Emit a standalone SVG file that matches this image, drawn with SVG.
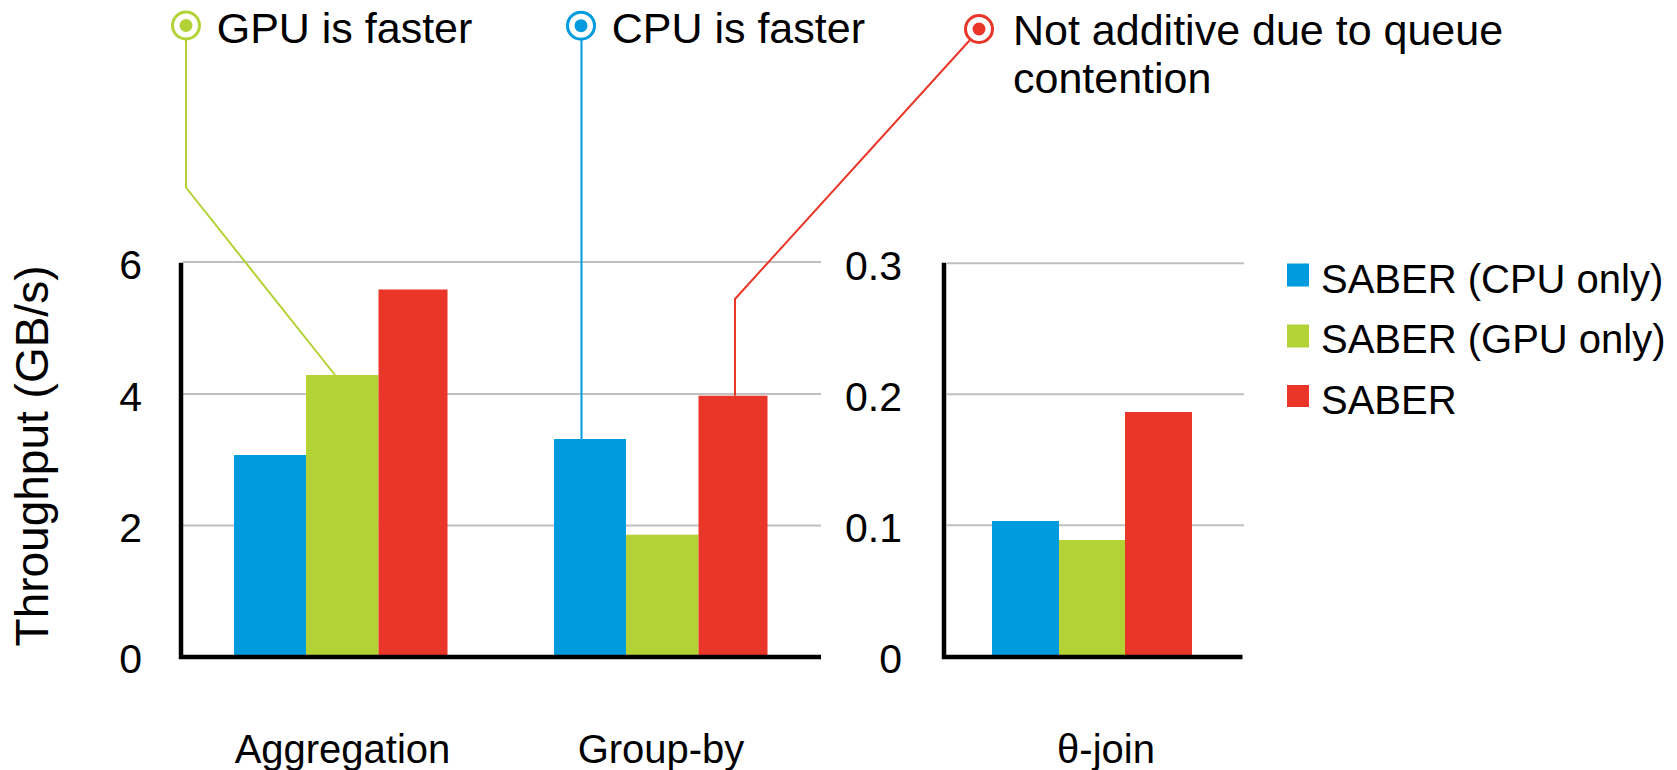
<svg xmlns="http://www.w3.org/2000/svg" width="1677" height="770" viewBox="0 0 1677 770">
<style>
text{font-family:"Liberation Sans",Arial,Helvetica,sans-serif;fill:#000}
.tick{font-size:41px;text-anchor:end}
.cat{font-size:40px;text-anchor:middle}
.leg{font-size:40px}
.ann{font-size:43px}
.grid{stroke:#c0c0c0;stroke-width:2;fill:none}
.axis{stroke:#000;stroke-width:4.5;fill:none}
.cpu{fill:#009bde}
.gpu{fill:#b2d235}
.sab{fill:#e93628}
.conn{fill:none;stroke-width:2}
</style>
<rect width="1677" height="770" fill="#fff"/>
<g id="left-chart">
<line class="grid" x1="183" y1="262" x2="821" y2="262"/>
<line class="grid" x1="183" y1="394" x2="821" y2="394"/>
<line class="grid" x1="183" y1="525.5" x2="821" y2="525.5"/>
<text class="tick" x="142" y="279">6</text>
<text class="tick" x="142" y="411">4</text>
<text class="tick" x="142" y="542">2</text>
<text class="tick" x="142" y="673">0</text>
<text class="tick" x="902" y="280">0.3</text>
<text class="tick" x="902" y="411">0.2</text>
<text class="tick" x="902" y="542">0.1</text>
<text class="tick" x="902" y="673">0</text>
<rect class="cpu" x="234" y="455" width="72" height="200"/>
<rect class="gpu" x="306" y="375" width="72.5" height="280"/>
<rect class="sab" x="378.5" y="289.5" width="69" height="365.5"/>
<rect class="cpu" x="554" y="439" width="72" height="216"/>
<rect class="gpu" x="626" y="534.7" width="72.5" height="120.3"/>
<rect class="sab" x="698.5" y="395.7" width="69" height="259.3"/>
<polyline class="axis" points="181,262.7 181,657 821,657"/>
</g>
<g id="right-chart">
<line class="grid" x1="947" y1="263.3" x2="1244" y2="263.3"/>
<line class="grid" x1="947" y1="394.3" x2="1244" y2="394.3"/>
<line class="grid" x1="947" y1="525.3" x2="1244" y2="525.3"/>
<rect class="cpu" x="992" y="521" width="67" height="134"/>
<rect class="gpu" x="1059" y="540" width="66" height="115"/>
<rect class="sab" x="1125" y="412" width="67" height="243"/>
<polyline class="axis" points="944,262.7 944,657 1242.5,657"/>
</g>
<g id="y-title">
<text x="48" y="456" font-size="46" text-anchor="middle" transform="rotate(-90 48 456)">Throughput (GB/s)</text>
</g>
<g id="categories">
<text class="cat" x="342.5" y="763">Aggregation</text>
<text class="cat" x="661" y="763">Group-by</text>
<text class="cat" x="1106" y="763">θ-join</text>
</g>
<g id="legend">
<rect class="cpu" x="1287" y="263.5" width="22" height="23"/>
<text class="leg" x="1321" y="292.7">SABER (CPU only)</text>
<rect class="gpu" x="1287" y="324.5" width="22" height="23"/>
<text class="leg" x="1321" y="353.3">SABER (GPU only)</text>
<rect class="sab" x="1287" y="385" width="22" height="22"/>
<text class="leg" x="1321" y="414">SABER</text>
</g>
<g id="connectors">
<polyline class="conn" stroke="#b2d235" points="186,40 186,187.5 335,375"/>
<line class="conn" stroke="#009bde" x1="581.5" y1="40" x2="581.5" y2="439"/>
<polyline class="conn" stroke="#e93628" points="969.5,40.5 735,299 735,395.7"/>
</g>
<g id="note-gpu">
<circle cx="186" cy="25.5" r="13.5" fill="#fff" stroke="#b2d235" stroke-width="3"/>
<circle cx="186" cy="25.5" r="6.5" fill="#b2d235"/>
<text class="ann" x="216.7" y="43.3">GPU is faster</text>
</g>
<g id="note-cpu">
<circle cx="581" cy="25.7" r="13.5" fill="#fff" stroke="#009bde" stroke-width="3"/>
<circle cx="581" cy="25.7" r="6.5" fill="#009bde"/>
<text class="ann" x="611.7" y="43.3">CPU is faster</text>
</g>
<g id="note-red">
<circle cx="979" cy="29" r="13.5" fill="#fff" stroke="#e93628" stroke-width="3"/>
<circle cx="979" cy="29" r="6.5" fill="#e93628"/>
<text class="ann" x="1013" y="45">Not additive due to queue</text>
<text class="ann" x="1013" y="93.3">contention</text>
</g>
</svg>
